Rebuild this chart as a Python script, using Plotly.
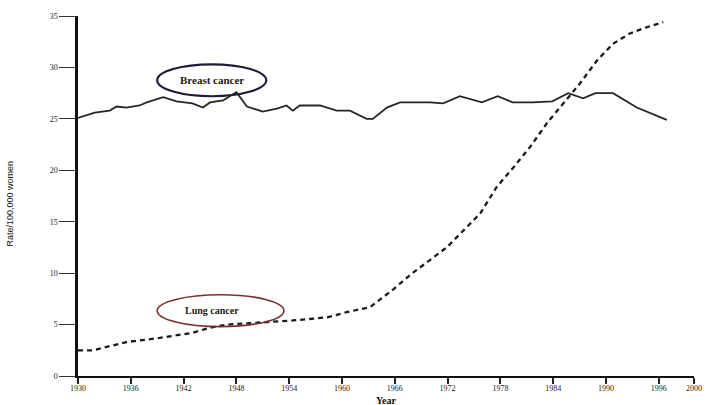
import plotly.graph_objects as go

# Breast cancer incidence (solid line)
breast_years = [1930, 1931.9, 1933.6, 1934.4, 1935.5, 1937, 1937.8, 1939.7, 1941.2, 1943,
                1944.2, 1945, 1946.5, 1948, 1949.2, 1951, 1952.6, 1953.7, 1954.4, 1955.2,
                1957.5, 1959.4, 1960.9, 1962.8, 1963.5, 1965.1, 1966.6, 1970, 1971.5, 1973.4,
                1975.9, 1977.7, 1979.4, 1981.7, 1983.9, 1985.7, 1987.4, 1988.8, 1990.8, 1993.5,
                1996.9]
breast_rate = [25.1, 25.6, 25.8, 26.2, 26.1, 26.3, 26.6, 27.1, 26.7, 26.5,
               26.1, 26.6, 26.8, 27.6, 26.2, 25.7, 26.0, 26.3, 25.8, 26.3,
               26.3, 25.8, 25.8, 25.0, 25.0, 26.1, 26.6, 26.6, 26.5, 27.2,
               26.6, 27.2, 26.6, 26.6, 26.7, 27.5, 27.0, 27.5, 27.5, 26.1,
               24.9]

# Lung cancer incidence (dashed line)
lung_years = [1930, 1931.7, 1935.5, 1939.3, 1943, 1945, 1947, 1950.7, 1954.4, 1958.3,
              1960.5, 1963.2, 1965.8, 1968, 1971.9, 1975.7, 1977.6, 1979.5, 1981.4, 1983.3,
              1985.1, 1987, 1989, 1990.8, 1992.7, 1994.6, 1996.5]
lung_rate = [2.5, 2.5, 3.3, 3.7, 4.2, 4.7, 5.0, 5.2, 5.4, 5.7,
             6.2, 6.7, 8.4, 10.0, 12.5, 15.8, 18.4, 20.3, 22.3, 24.6,
             26.5, 28.4, 30.7, 32.3, 33.3, 33.9, 34.4]

x_ticks = [1930, 1936, 1942, 1948, 1954, 1960, 1966, 1972, 1978, 1984, 1990, 1996, 2000]
y_ticks = [0, 5, 10, 15, 20, 25, 30, 35]

fig = go.Figure()
fig.add_trace(go.Scatter(x=breast_years, y=breast_rate, mode="lines",
                         line=dict(color="#262626", width=1.8), name="Breast cancer"))
fig.add_trace(go.Scatter(x=lung_years, y=lung_rate, mode="lines",
                         line=dict(color="#1a1a1a", width=2.3, dash="5px,4px"), name="Lung cancer"))

fig.add_shape(type="circle", xref="x", yref="y", x0=1939.0, x1=1951.4, y0=27.2, y1=30.3,
              line=dict(color="#1c1c38", width=2.2))
fig.add_shape(type="circle", xref="x", yref="y", x0=1939.0, x1=1953.4, y0=4.8, y1=7.9,
              line=dict(color="#7a3030", width=1.6))

fig.add_annotation(x=1945.2, y=28.75, xref="x", yref="y", text="<b>Breast cancer</b>",
                   showarrow=False, font=dict(family="Liberation Serif", size=11, color="#1a1a1a"))
fig.add_annotation(x=1945.2, y=6.35, xref="x", yref="y", text="<b>Lung cancer</b>",
                   showarrow=False, font=dict(family="Liberation Serif", size=10, color="#1a1a1a"))

fig.add_annotation(x=0.50, y=-0.069, xref="paper", yref="paper", text="<b>Year</b>",
                   showarrow=False, yanchor="middle",
                   font=dict(family="Liberation Serif", size=10, color="#111"))
fig.add_annotation(x=-0.11, y=0.48, xref="paper", yref="paper", text="Rate/100,000 women",
                   showarrow=False, textangle=-90, xanchor="center",
                   font=dict(family="Liberation Sans Narrow, Liberation Sans", size=9, color="#111"))

fig.update_layout(
    width=707, height=405,
    margin=dict(l=78, r=13, t=16, b=29, autoexpand=False),
    paper_bgcolor="white", plot_bgcolor="white",
    showlegend=False,
    xaxis=dict(range=[1930, 2000], tickvals=x_ticks, ticktext=[str(v) for v in x_ticks],
               automargin=False,
               showgrid=False, zeroline=False, showline=True, linecolor="#111", linewidth=2,
               ticks="outside", ticklen=6, tickwidth=1.5, tickcolor="#222",
               ticklabelstandoff=-3,
               tickfont=dict(family="Liberation Serif", size=8, color="#222")),
    yaxis=dict(range=[0, 35], tickvals=y_ticks, showgrid=False, zeroline=False,
               automargin=False,
               showline=True, linecolor="#111", linewidth=2.5,
               ticks="outside", ticklen=16, tickwidth=1.2, tickcolor="#333",
               tickfont=dict(family="Liberation Serif", size=8, color="#222")),
)

fig.write_html("out.html", config={"displayModeBar": False},
               post_script="document.body.style.margin='0';document.body.style.overflow='hidden';")
